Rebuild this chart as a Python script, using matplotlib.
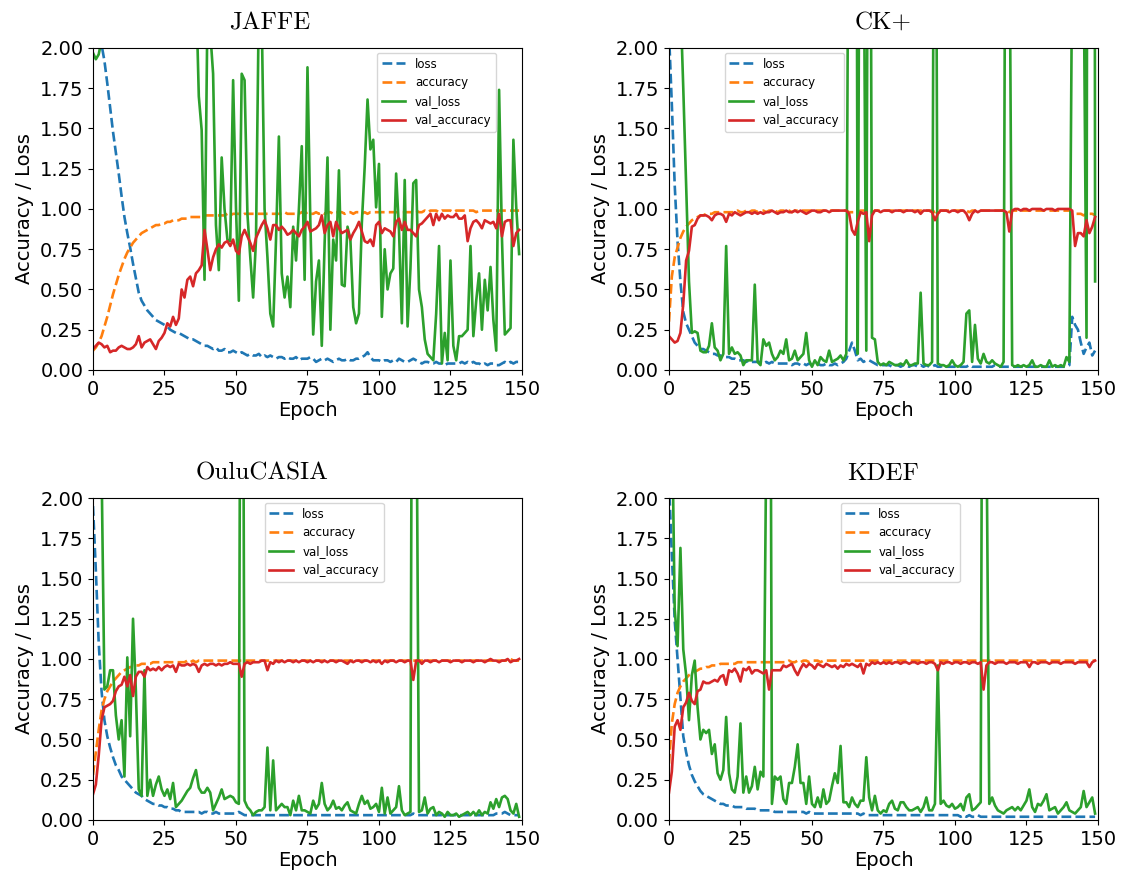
import matplotlib
matplotlib.use("Agg")
import matplotlib.pyplot as plt

epochs = list(range(150))
series_labels = ["loss", "accuracy", "val_loss", "val_accuracy"]
titles = ["JAFFE", "CK+", "OuluCASIA", "KDEF"]
x_ticks = [0, 25, 50, 75, 100, 125, 150]
y_ticks = [0.0, 0.25, 0.5, 0.75, 1.0, 1.25, 1.5, 1.75, 2.0]

# ---------------- JAFFE ----------------
jaffe_loss = [
    2.25, 2.15, 2.08, 2.02, 1.92, 1.78, 1.63, 1.48, 1.35, 1.22,
    1.08, 0.95, 0.85, 0.76, 0.66, 0.57, 0.48, 0.43, 0.40, 0.37,
    0.35, 0.33, 0.31, 0.30, 0.29, 0.28, 0.27, 0.25, 0.24, 0.23,
    0.23, 0.22, 0.21, 0.20, 0.19, 0.19, 0.18, 0.17, 0.16, 0.15,
    0.15, 0.14, 0.13, 0.14, 0.12, 0.12, 0.13, 0.11, 0.11, 0.12,
    0.11, 0.10, 0.11, 0.10, 0.09, 0.10, 0.09, 0.09, 0.10, 0.08,
    0.09, 0.08, 0.09, 0.08, 0.07, 0.08, 0.08, 0.07, 0.08, 0.07,
    0.07, 0.08, 0.06, 0.07, 0.07, 0.07, 0.08, 0.07, 0.05, 0.06,
    0.07, 0.06, 0.07, 0.06, 0.05, 0.06, 0.07, 0.06, 0.06, 0.07,
    0.06, 0.06, 0.07, 0.07, 0.08, 0.09, 0.11, 0.08, 0.06, 0.06,
    0.06, 0.05, 0.06, 0.06, 0.05, 0.06, 0.05, 0.07, 0.06, 0.05,
    0.05, 0.06, 0.07, 0.06, 0.05, 0.04, 0.05, 0.05, 0.04, 0.04,
    0.05, 0.04, 0.04, 0.03, 0.04, 0.04, 0.04, 0.04, 0.04, 0.05,
    0.04, 0.05, 0.04, 0.05, 0.04, 0.04, 0.03, 0.04, 0.03, 0.04,
    0.04, 0.03, 0.03, 0.04, 0.05, 0.04, 0.05, 0.04, 0.05, 0.05]
jaffe_acc = [
    0.12, 0.14, 0.17, 0.21, 0.27, 0.33, 0.40, 0.47, 0.53, 0.59,
    0.64, 0.69, 0.73, 0.76, 0.79, 0.81, 0.83, 0.85, 0.86, 0.87,
    0.88, 0.89, 0.90, 0.90, 0.91, 0.91, 0.92, 0.92, 0.93, 0.93,
    0.93, 0.94, 0.94, 0.94, 0.95, 0.95, 0.95, 0.95, 0.95, 0.96,
    0.96, 0.96, 0.96, 0.96, 0.96, 0.96, 0.96, 0.97, 0.96, 0.97,
    0.97, 0.97, 0.96, 0.97, 0.97, 0.97, 0.97, 0.97, 0.97, 0.97,
    0.97, 0.97, 0.97, 0.97, 0.97, 0.97, 0.97, 0.98, 0.97, 0.97,
    0.97, 0.97, 0.97, 0.98, 0.97, 0.98, 0.97, 0.97, 0.98, 0.97,
    0.98, 0.97, 0.98, 0.98, 0.97, 0.98, 0.98, 0.98, 0.97, 0.98,
    0.98, 0.97, 0.98, 0.98, 0.97, 0.98, 0.97, 0.98, 0.98, 0.98,
    0.98, 0.98, 0.98, 0.98, 0.98, 0.98, 0.98, 0.98, 0.98, 0.98,
    0.98, 0.98, 0.98, 0.99, 0.98, 0.98, 0.99, 0.98, 0.99, 0.99,
    0.99, 0.98, 0.99, 0.99, 0.99, 0.99, 0.98, 0.99, 0.99, 0.99,
    0.99, 0.99, 0.99, 0.99, 0.98, 0.99, 0.99, 0.99, 0.99, 0.99,
    0.99, 0.99, 0.99, 0.99, 0.99, 0.99, 0.99, 0.99, 0.99, 0.99]
jaffe_val_loss = [
    1.97, 1.93, 1.96, 2.05, 2.60, 3.00, 3.40, 3.10, 3.80, 4.20,
    3.60, 4.40, 3.90, 4.60, 4.10, 3.70, 4.30, 4.80, 4.00, 3.50,
    3.90, 4.20, 3.70, 3.30, 3.80, 4.10, 3.40, 3.00, 3.60, 3.20,
    2.90, 3.40, 2.80, 3.10, 2.70, 2.90, 2.40, 1.70, 1.49, 0.56,
    2.20, 2.10, 1.84, 0.90, 0.62, 1.32, 1.00, 0.81, 0.80, 1.80,
    1.01, 0.43, 1.84, 1.80, 0.97, 0.70, 0.45, 0.81, 2.30, 2.20,
    1.00, 0.70, 0.35, 0.27, 0.81, 1.45, 0.60, 0.45, 0.58, 0.39,
    0.89, 0.68, 1.00, 1.39, 0.56, 1.88, 0.92, 0.22, 0.55, 0.68,
    0.15, 0.79, 1.32, 0.25, 0.81, 0.68, 1.24, 0.53, 0.52, 0.89,
    0.81, 0.39, 0.29, 0.35, 0.91, 1.26, 1.68, 1.37, 1.43, 1.01,
    1.28, 0.33, 0.75, 0.50, 0.60, 0.63, 1.22, 0.87, 0.29, 1.18,
    0.27, 0.63, 1.16, 1.18, 0.50, 0.39, 0.19, 0.10, 0.08, 0.06,
    0.35, 0.77, 0.04, 0.23, 0.06, 0.68, 0.15, 0.06, 0.21, 0.21,
    0.23, 0.25, 0.77, 0.21, 0.43, 0.60, 0.25, 0.56, 0.37, 0.64,
    0.31, 0.12, 1.74, 0.82, 0.22, 0.24, 0.26, 1.43, 1.01, 0.72]
jaffe_val_acc = [
    0.13, 0.15, 0.17, 0.16, 0.14, 0.15, 0.11, 0.12, 0.12, 0.14,
    0.15, 0.14, 0.13, 0.13, 0.14, 0.16, 0.21, 0.14, 0.17, 0.18,
    0.19, 0.16, 0.13, 0.18, 0.20, 0.23, 0.29, 0.27, 0.33, 0.28,
    0.32, 0.50, 0.45, 0.56, 0.58, 0.52, 0.60, 0.62, 0.65, 0.87,
    0.75, 0.62, 0.70, 0.75, 0.78, 0.76, 0.79, 0.80, 0.77, 0.81,
    0.74, 0.72, 0.83, 0.87, 0.83, 0.79, 0.74, 0.82, 0.86, 0.90,
    0.93, 0.88, 0.81, 0.90, 0.90, 0.87, 0.89, 0.87, 0.84, 0.85,
    0.87, 0.85, 0.83, 0.87, 0.89, 0.92, 0.86, 0.87, 0.88, 0.90,
    0.96, 0.85, 0.90, 0.92, 0.83, 0.92, 0.88, 0.85, 0.86, 0.87,
    0.81, 0.85, 0.88, 0.92, 0.86, 0.80, 0.79, 0.81, 0.77, 0.90,
    0.92, 0.85, 0.88, 0.87, 0.86, 0.83, 0.92, 0.94, 0.87, 0.92,
    0.87, 0.87, 0.85, 0.83, 0.90, 0.91, 0.93, 0.95, 0.97, 0.90,
    0.97, 0.93, 0.97, 0.94, 0.96, 0.95, 0.95, 0.97, 0.94, 0.94,
    0.96, 0.80, 0.88, 0.92, 0.93, 0.91, 0.88, 0.93, 0.92, 0.91,
    0.92, 0.88, 0.97, 0.83, 0.92, 0.93, 0.93, 0.77, 0.85, 0.87]

# ---------------- CK+ ----------------
ck_loss = [
    2.10, 1.65, 1.15, 0.80, 0.55, 0.36, 0.29, 0.25, 0.21, 0.17,
    0.15, 0.13, 0.13, 0.12, 0.11, 0.10, 0.10, 0.09, 0.09, 0.08,
    0.08, 0.08, 0.07, 0.07, 0.06, 0.06, 0.06, 0.05, 0.06, 0.05,
    0.05, 0.05, 0.05, 0.04, 0.05, 0.04, 0.05, 0.04, 0.04, 0.04,
    0.04, 0.04, 0.04, 0.03, 0.04, 0.04, 0.03, 0.04, 0.03, 0.04,
    0.03, 0.03, 0.04, 0.03, 0.03, 0.04, 0.03, 0.03, 0.04, 0.03,
    0.04, 0.05, 0.07, 0.12, 0.17, 0.12, 0.06, 0.07, 0.05, 0.06,
    0.06, 0.05, 0.04, 0.03, 0.03, 0.03, 0.03, 0.03, 0.02, 0.03,
    0.03, 0.02, 0.03, 0.03, 0.02, 0.03, 0.03, 0.02, 0.03, 0.02,
    0.03, 0.02, 0.02, 0.03, 0.02, 0.02, 0.03, 0.02, 0.02, 0.02,
    0.02, 0.03, 0.02, 0.02, 0.02, 0.03, 0.02, 0.02, 0.02, 0.02,
    0.02, 0.02, 0.02, 0.02, 0.03, 0.02, 0.02, 0.02, 0.02, 0.02,
    0.02, 0.02, 0.02, 0.02, 0.02, 0.02, 0.02, 0.02, 0.02, 0.02,
    0.02, 0.02, 0.02, 0.02, 0.02, 0.02, 0.02, 0.02, 0.02, 0.02,
    0.03, 0.33, 0.28, 0.25, 0.17, 0.10, 0.14, 0.17, 0.09, 0.12]
ck_acc = [
    0.30, 0.58, 0.70, 0.76, 0.82, 0.86, 0.89, 0.91, 0.93, 0.94,
    0.95, 0.96, 0.96, 0.97, 0.97, 0.97, 0.98, 0.98, 0.98, 0.98,
    0.98, 0.98, 0.98, 0.98, 0.99, 0.98, 0.98, 0.99, 0.98, 0.99,
    0.99, 0.98, 0.99, 0.99, 0.98, 0.99, 0.99, 0.99, 0.98, 0.99,
    0.99, 0.99, 0.99, 0.98, 0.99, 0.99, 0.99, 0.99, 0.99, 0.99,
    0.99, 0.99, 0.99, 0.99, 0.99, 0.99, 0.99, 0.99, 0.99, 0.99,
    0.99, 0.99, 0.99, 0.98, 0.98, 0.98, 0.98, 0.99, 0.99, 0.99,
    0.98, 0.98, 0.99, 0.99, 0.99, 0.99, 0.99, 0.99, 0.99, 0.99,
    0.99, 0.99, 0.99, 0.99, 0.99, 0.99, 0.99, 0.99, 0.99, 0.99,
    0.99, 0.99, 0.99, 0.98, 0.99, 0.99, 0.99, 0.99, 0.99, 0.99,
    0.99, 0.99, 0.99, 0.99, 0.99, 0.98, 0.99, 0.99, 0.99, 0.99,
    0.99, 0.99, 0.99, 0.99, 0.99, 0.99, 0.99, 0.99, 0.99, 0.98,
    0.99, 0.99, 0.99, 0.99, 0.99, 0.99, 0.99, 0.99, 0.99, 0.99,
    0.99, 0.99, 0.99, 0.99, 0.99, 0.99, 0.99, 0.99, 0.99, 0.99,
    0.99, 0.98, 0.97, 0.97, 0.97, 0.96, 0.97, 0.97, 0.97, 0.96]
ck_val_loss = [
    4.00, 3.80, 3.20, 2.80, 2.30, 1.75, 1.15, 0.55, 0.23, 0.24,
    0.23, 0.12, 0.11, 0.11, 0.15, 0.29, 0.14, 0.12, 0.06, 0.10,
    0.77, 0.10, 0.14, 0.10, 0.11, 0.09, 0.03, 0.06, 0.06, 0.06,
    0.53, 0.05, 0.03, 0.19, 0.15, 0.17, 0.10, 0.06, 0.08, 0.12,
    0.10, 0.19, 0.06, 0.07, 0.12, 0.06, 0.08, 0.10, 0.23, 0.06,
    0.02, 0.06, 0.03, 0.08, 0.06, 0.05, 0.12, 0.05, 0.06, 0.07,
    0.09, 0.06, 0.10, 4.00, 5.00, 8.00, 0.10, 5.00, 3.00, 0.12,
    6.00, 0.20, 0.19, 0.05, 0.03, 0.04, 0.03, 0.05, 0.04, 0.03,
    0.03, 0.04, 0.03, 0.06, 0.03, 0.03, 0.04, 0.04, 0.48, 0.04,
    0.03, 0.03, 0.05, 5.00, 0.04, 0.03, 0.03, 0.02, 0.03, 0.06,
    0.03, 0.02, 0.03, 0.05, 0.35, 0.37, 0.05, 0.28, 0.07, 0.04,
    0.10, 0.05, 0.04, 0.06, 0.04, 0.03, 0.02, 0.05, 5.00, 3.00,
    0.03, 0.02, 0.03, 0.02, 0.03, 0.02, 0.03, 0.06, 0.02, 0.02,
    0.03, 0.02, 0.02, 0.06, 0.02, 0.03, 0.02, 0.03, 0.02, 0.08,
    0.05, 2.60, 3.50, 4.00, 3.50, 2.50, 0.20, 12.0, 20.0, 0.55]
ck_val_acc = [
    0.21, 0.19, 0.17, 0.18, 0.23, 0.41, 0.68, 0.74, 0.89, 0.90,
    0.94, 0.96, 0.96, 0.96, 0.95, 0.93, 0.96, 0.97, 0.97, 0.96,
    0.92, 0.97, 0.96, 0.98, 0.97, 0.96, 0.97, 0.98, 0.98, 0.97,
    0.98, 0.97, 0.98, 0.97, 0.98, 0.98, 0.99, 0.98, 0.97, 0.98,
    0.98, 0.99, 0.98, 0.98, 0.99, 0.98, 0.99, 0.98, 0.97, 0.98,
    0.99, 0.99, 0.98, 0.98, 0.99, 0.99, 0.98, 0.99, 0.99, 0.99,
    0.99, 0.99, 0.99, 0.97, 0.87, 0.84, 0.92, 0.98, 0.97, 0.98,
    0.80, 0.96, 0.99, 0.99, 0.98, 0.99, 0.99, 0.99, 0.98, 0.99,
    0.99, 0.99, 0.98, 0.99, 0.99, 0.99, 0.98, 0.99, 0.97, 0.99,
    0.99, 0.99, 0.98, 0.93, 0.97, 0.99, 0.99, 0.99, 0.98, 0.99,
    0.99, 0.98, 0.99, 0.99, 0.97, 0.93, 0.97, 0.99, 0.98, 0.99,
    0.99, 0.99, 0.99, 0.99, 0.99, 0.99, 0.99, 0.99, 0.98, 0.86,
    0.99, 1.00, 1.00, 0.99, 1.00, 1.00, 0.99, 1.00, 1.00, 1.00,
    1.00, 0.99, 1.00, 1.00, 1.00, 0.99, 1.00, 1.00, 1.00, 1.00,
    1.00, 0.99, 0.77, 0.85, 0.85, 0.83, 0.93, 0.85, 0.89, 0.95]

# ---------------- OuluCASIA ----------------
oulu_loss = [
    1.95, 1.55, 1.10, 0.80, 0.62, 0.52, 0.45, 0.39, 0.34, 0.31,
    0.27, 0.25, 0.23, 0.21, 0.19, 0.17, 0.16, 0.15, 0.13, 0.12,
    0.11, 0.10, 0.10, 0.09, 0.09, 0.08, 0.08, 0.07, 0.07, 0.06,
    0.06, 0.05, 0.05, 0.05, 0.05, 0.05, 0.05, 0.05, 0.04, 0.05,
    0.05, 0.04, 0.04, 0.05, 0.04, 0.04, 0.04, 0.04, 0.04, 0.04,
    0.04, 0.05, 0.04, 0.03, 0.03, 0.03, 0.03, 0.03, 0.03, 0.03,
    0.03, 0.03, 0.03, 0.03, 0.03, 0.03, 0.03, 0.03, 0.03, 0.03,
    0.03, 0.03, 0.03, 0.03, 0.03, 0.03, 0.03, 0.03, 0.03, 0.03,
    0.03, 0.03, 0.03, 0.03, 0.03, 0.03, 0.03, 0.03, 0.03, 0.03,
    0.03, 0.03, 0.03, 0.03, 0.03, 0.03, 0.03, 0.03, 0.03, 0.03,
    0.03, 0.03, 0.03, 0.03, 0.03, 0.03, 0.03, 0.03, 0.03, 0.03,
    0.03, 0.03, 0.04, 0.03, 0.03, 0.03, 0.03, 0.03, 0.03, 0.03,
    0.03, 0.03, 0.03, 0.03, 0.03, 0.03, 0.03, 0.03, 0.03, 0.03,
    0.03, 0.03, 0.03, 0.03, 0.03, 0.03, 0.03, 0.03, 0.03, 0.03,
    0.03, 0.04, 0.04, 0.04, 0.05, 0.04, 0.03, 0.03, 0.03, 0.03]
oulu_acc = [
    0.28, 0.42, 0.56, 0.68, 0.75, 0.80, 0.83, 0.86, 0.88, 0.90,
    0.92, 0.93, 0.94, 0.95, 0.95, 0.96, 0.96, 0.97, 0.97, 0.97,
    0.97, 0.98, 0.98, 0.98, 0.98, 0.98, 0.98, 0.98, 0.98, 0.98,
    0.98, 0.98, 0.98, 0.99, 0.98, 0.99, 0.98, 0.99, 0.99, 0.99,
    0.99, 0.99, 0.99, 0.99, 0.99, 0.99, 0.99, 0.99, 0.99, 0.99,
    0.99, 0.99, 0.99, 0.99, 0.99, 0.99, 0.99, 0.99, 0.99, 0.99,
    0.99, 0.99, 0.99, 0.99, 0.99, 0.99, 0.99, 0.99, 0.99, 0.99,
    0.99, 0.99, 0.99, 0.99, 0.99, 0.99, 0.99, 0.99, 0.99, 0.99,
    0.99, 0.99, 0.99, 0.99, 0.99, 0.99, 0.99, 0.99, 0.99, 0.99,
    0.99, 0.99, 0.99, 0.99, 0.99, 0.99, 0.99, 0.99, 0.99, 0.99,
    0.99, 0.99, 0.99, 0.99, 0.99, 0.99, 0.99, 0.99, 0.99, 0.99,
    0.99, 0.99, 0.99, 0.99, 0.99, 0.99, 0.99, 0.99, 0.99, 0.99,
    0.99, 0.99, 0.99, 0.99, 0.99, 0.99, 0.99, 0.99, 0.99, 0.99,
    0.99, 0.99, 0.99, 0.99, 0.99, 0.99, 0.99, 0.99, 0.99, 0.99,
    0.99, 0.99, 0.99, 0.99, 0.99, 0.99, 1.00, 0.99, 0.99, 0.99]
oulu_val_loss = [
    3.50, 3.00, 2.60, 2.20, 0.81, 0.83, 0.93, 0.93, 0.65, 0.50,
    0.62, 0.27, 1.01, 0.52, 1.25, 0.80, 0.19, 0.15, 0.93, 0.15,
    0.25, 0.15, 0.22, 0.27, 0.19, 0.15, 0.19, 0.13, 0.23, 0.08,
    0.10, 0.12, 0.15, 0.18, 0.20, 0.26, 0.31, 0.20, 0.17, 0.17,
    0.20, 0.17, 0.06, 0.10, 0.14, 0.19, 0.13, 0.14, 0.15, 0.14,
    0.11, 0.10, 6.00, 0.12, 0.08, 0.06, 0.03, 0.05, 0.06, 0.06,
    0.08, 0.45, 0.06, 0.37, 0.06, 0.08, 0.10, 0.08, 0.08, 0.03,
    0.12, 0.06, 0.15, 0.06, 0.06, 0.05, 0.04, 0.12, 0.07, 0.10,
    0.23, 0.10, 0.06, 0.08, 0.12, 0.07, 0.08, 0.06, 0.09, 0.11,
    0.06, 0.05, 0.04, 0.10, 0.15, 0.10, 0.12, 0.07, 0.08, 0.10,
    0.05, 0.20, 0.04, 0.14, 0.04, 0.06, 0.08, 0.21, 0.06, 0.03,
    0.04, 0.05, 6.00, 3.00, 0.05, 0.06, 0.14, 0.04, 0.07, 0.08,
    0.03, 0.05, 0.04, 0.02, 0.05, 0.03, 0.03, 0.04, 0.02, 0.03,
    0.04, 0.05, 0.03, 0.05, 0.03, 0.06, 0.03, 0.05, 0.04, 0.11,
    0.07, 0.13, 0.08, 0.14, 0.15, 0.13, 0.06, 0.04, 0.10, 0.02]
oulu_val_acc = [
    0.16, 0.22, 0.40, 0.62, 0.70, 0.71, 0.72, 0.74, 0.80, 0.83,
    0.84, 0.89, 0.83, 0.90, 0.77, 0.89, 0.92, 0.92, 0.89, 0.95,
    0.93, 0.94, 0.93, 0.95, 0.93, 0.95, 0.96, 0.95, 0.96, 0.92,
    0.97, 0.96, 0.96, 0.97, 0.96, 0.97, 0.96, 0.92, 0.96, 0.97,
    0.96, 0.97, 0.97, 0.96, 0.97, 0.96, 0.97, 0.97, 0.98, 0.97,
    0.97, 0.97, 0.89, 0.97, 0.98, 0.97, 0.98, 0.98, 0.98, 0.99,
    0.99, 0.93, 0.98, 0.97, 0.99, 0.98, 0.99, 0.98, 0.99, 0.99,
    0.98, 0.99, 0.98, 0.99, 0.99, 0.98, 0.99, 0.98, 0.99, 0.99,
    0.98, 0.99, 0.98, 0.99, 0.99, 0.98, 0.99, 0.99, 0.98, 0.97,
    0.99, 0.98, 0.99, 0.99, 0.98, 0.99, 0.99, 0.98, 0.99, 0.98,
    0.99, 0.97, 0.99, 0.98, 0.99, 0.99, 0.98, 0.99, 0.99, 0.98,
    0.99, 0.99, 0.87, 0.99, 0.99, 0.97, 0.99, 0.99, 0.98, 0.99,
    0.99, 0.98, 0.99, 0.99, 0.99, 0.98, 0.99, 0.99, 0.99, 0.98,
    0.99, 0.99, 0.99, 0.98, 0.99, 0.99, 0.99, 0.98, 0.99, 1.00,
    0.99, 0.99, 0.98, 0.99, 0.99, 1.00, 0.98, 0.99, 0.99, 1.00]

# ---------------- KDEF ----------------
kdef_loss = [
    2.10, 1.65, 1.24, 1.00, 0.76, 0.52, 0.42, 0.34, 0.28, 0.24,
    0.21, 0.18, 0.16, 0.15, 0.14, 0.13, 0.12, 0.11, 0.10, 0.10,
    0.09, 0.09, 0.09, 0.08, 0.08, 0.08, 0.08, 0.07, 0.07, 0.07,
    0.07, 0.06, 0.06, 0.06, 0.06, 0.06, 0.06, 0.05, 0.05, 0.05,
    0.05, 0.05, 0.05, 0.05, 0.05, 0.05, 0.05, 0.05, 0.04, 0.05,
    0.04, 0.04, 0.04, 0.04, 0.04, 0.04, 0.04, 0.04, 0.04, 0.04,
    0.04, 0.04, 0.04, 0.04, 0.04, 0.04, 0.04, 0.03, 0.04, 0.03,
    0.03, 0.03, 0.03, 0.03, 0.03, 0.03, 0.03, 0.03, 0.03, 0.03,
    0.03, 0.03, 0.03, 0.03, 0.03, 0.03, 0.03, 0.03, 0.03, 0.03,
    0.03, 0.03, 0.03, 0.03, 0.03, 0.03, 0.03, 0.03, 0.03, 0.03,
    0.03, 0.03, 0.02, 0.03, 0.02, 0.03, 0.02, 0.02, 0.03, 0.02,
    0.02, 0.02, 0.02, 0.02, 0.02, 0.02, 0.02, 0.02, 0.02, 0.02,
    0.02, 0.02, 0.02, 0.02, 0.02, 0.02, 0.02, 0.02, 0.02, 0.02,
    0.02, 0.02, 0.02, 0.02, 0.02, 0.02, 0.02, 0.02, 0.02, 0.02,
    0.02, 0.02, 0.02, 0.02, 0.02, 0.02, 0.02, 0.02, 0.02, 0.02]
kdef_acc = [
    0.35, 0.60, 0.72, 0.79, 0.83, 0.86, 0.88, 0.90, 0.91, 0.92,
    0.93, 0.94, 0.94, 0.95, 0.95, 0.96, 0.96, 0.96, 0.97, 0.97,
    0.97, 0.97, 0.97, 0.97, 0.98, 0.98, 0.98, 0.98, 0.98, 0.98,
    0.98, 0.98, 0.98, 0.98, 0.98, 0.98, 0.98, 0.98, 0.98, 0.98,
    0.98, 0.98, 0.99, 0.98, 0.98, 0.99, 0.98, 0.99, 0.99, 0.98,
    0.99, 0.99, 0.99, 0.98, 0.99, 0.99, 0.99, 0.99, 0.99, 0.99,
    0.99, 0.99, 0.99, 0.99, 0.99, 0.99, 0.99, 0.99, 0.99, 0.99,
    0.99, 0.99, 0.99, 0.99, 0.99, 0.99, 0.99, 0.99, 0.99, 0.99,
    0.99, 0.99, 0.99, 0.99, 0.99, 0.99, 0.99, 0.99, 0.99, 0.99,
    0.99, 0.99, 0.99, 0.99, 0.99, 0.99, 0.99, 0.99, 0.99, 0.99,
    0.99, 0.99, 0.99, 0.99, 0.99, 0.99, 0.99, 0.99, 0.99, 0.99,
    0.99, 0.99, 0.99, 0.99, 0.99, 0.99, 0.99, 0.99, 0.99, 0.99,
    0.99, 0.99, 0.99, 0.99, 0.99, 0.99, 0.99, 0.99, 0.99, 0.99,
    0.99, 0.99, 0.99, 0.99, 0.99, 0.99, 0.99, 0.99, 0.99, 0.99,
    0.99, 0.99, 0.99, 0.99, 0.99, 0.99, 0.99, 0.99, 0.99, 0.99]
kdef_val_loss = [
    4.00, 2.60, 1.31, 1.08, 1.69, 1.06, 0.90, 0.62, 0.90, 0.99,
    0.70, 0.50, 0.56, 0.54, 0.56, 0.41, 0.47, 0.29, 0.25, 0.31,
    0.64, 0.29, 0.19, 0.17, 0.27, 0.60, 0.17, 0.27, 0.17, 0.21,
    0.33, 0.19, 0.30, 0.27, 2.30, 6.00, 0.10, 0.27, 0.25, 0.27,
    0.13, 0.10, 0.23, 0.23, 0.33, 0.47, 0.23, 0.23, 0.10, 0.27,
    0.10, 0.08, 0.14, 0.08, 0.19, 0.10, 0.12, 0.21, 0.29, 0.23,
    0.46, 0.11, 0.11, 0.08, 0.14, 0.10, 0.08, 0.12, 0.12, 0.39,
    0.14, 0.06, 0.15, 0.06, 0.04, 0.06, 0.05, 0.10, 0.12, 0.07,
    0.06, 0.11, 0.11, 0.08, 0.06, 0.06, 0.07, 0.08, 0.05, 0.08,
    0.14, 0.06, 0.06, 0.10, 0.96, 0.10, 0.12, 0.09, 0.08, 0.10,
    0.07, 0.08, 0.10, 0.06, 0.14, 0.16, 0.06, 0.07, 0.09, 0.11,
    6.00, 2.50, 0.10, 0.14, 0.09, 0.06, 0.05, 0.04, 0.06, 0.07,
    0.08, 0.06, 0.08, 0.06, 0.09, 0.12, 0.19, 0.08, 0.05, 0.10,
    0.09, 0.12, 0.16, 0.06, 0.07, 0.08, 0.04, 0.06, 0.08, 0.11,
    0.06, 0.05, 0.04, 0.06, 0.08, 0.18, 0.08, 0.11, 0.14, 0.04]
kdef_val_acc = [
    0.17, 0.30, 0.58, 0.62, 0.56, 0.70, 0.73, 0.79, 0.74, 0.72,
    0.80, 0.81, 0.86, 0.85, 0.85, 0.86, 0.87, 0.86, 0.89, 0.90,
    0.84, 0.93, 0.92, 0.94, 0.91, 0.86, 0.94, 0.93, 0.95, 0.91,
    0.93, 0.93, 0.92, 0.91, 0.93, 0.81, 0.93, 0.93, 0.93, 0.93,
    0.96, 0.95, 0.96, 0.97, 0.93, 0.90, 0.94, 0.97, 0.95, 0.97,
    0.96, 0.94, 0.97, 0.96, 0.95, 0.97, 0.96, 0.95, 0.96, 0.94,
    0.96, 0.95, 0.97, 0.96, 0.97, 0.96, 0.95, 0.97, 0.91, 0.97,
    0.96, 0.98, 0.97, 0.98, 0.97, 0.98, 0.97, 0.98, 0.97, 0.98,
    0.98, 0.97, 0.98, 0.98, 0.97, 0.98, 0.98, 0.97, 0.98, 0.98,
    0.97, 0.98, 0.98, 0.97, 0.93, 0.98, 0.97, 0.98, 0.98, 0.97,
    0.98, 0.98, 0.97, 0.98, 0.98, 0.97, 0.98, 0.98, 0.97, 0.98,
    0.81, 0.96, 0.98, 0.98, 0.97, 0.98, 0.98, 0.98, 0.97, 0.98,
    0.98, 0.98, 0.97, 0.98, 0.98, 0.98, 0.95, 0.98, 0.98, 0.97,
    0.98, 0.98, 0.98, 0.97, 0.98, 0.98, 0.98, 0.97, 0.98, 0.98,
    0.98, 0.98, 0.97, 0.98, 0.98, 0.98, 0.98, 0.95, 0.98, 0.99]

datasets = [
    (jaffe_loss, jaffe_acc, jaffe_val_loss, jaffe_val_acc),
    (ck_loss, ck_acc, ck_val_loss, ck_val_acc),
    (oulu_loss, oulu_acc, oulu_val_loss, oulu_val_acc),
    (kdef_loss, kdef_acc, kdef_val_loss, kdef_val_acc),
]

colors = ["#1f77b4", "#ff7f0e", "#2ca02c", "#d62728"]
styles = ["--", "--", "-", "-"]

W, H = 1123, 874
axes_rects = [
    [0.0828, 0.5767, 0.3820, 0.3684],
    [0.5957, 0.5767, 0.3820, 0.3684],
    [0.0828, 0.0618, 0.3820, 0.3684],
    [0.5957, 0.0618, 0.3820, 0.3684],
]
# title centres / baselines in figure pixels
title_pos = [(270, 29), (883, 29), (262, 480), (883, 480)]
legend_anchor = [(0.662, 0.985), (0.13, 0.985), (0.40, 0.985), (0.40, 0.985)]

fig = plt.figure(figsize=(W / 100, H / 100), dpi=100)
for i, rect in enumerate(axes_rects):
    ax = fig.add_axes(rect)
    for s, ys in enumerate(datasets[i]):
        ax.plot(epochs, ys, linestyle=styles[s], color=colors[s],
                linewidth=1.9, label=series_labels[s])
    ax.set_xlim(0, 150)
    ax.set_ylim(0, 2)
    ax.set_xticks(x_ticks)
    ax.set_yticks(y_ticks)
    ax.tick_params(labelsize=14)
    ax.set_xlabel("Epoch", fontsize=14, labelpad=2)
    ax.set_ylabel("Accuracy / Loss", fontsize=14)
    ax.legend(loc="upper left", bbox_to_anchor=legend_anchor[i],
              borderaxespad=0, fontsize=8.5)
    tx, ty = title_pos[i]
    fig.text(tx / W, 1 - ty / H, titles[i], ha="center", va="baseline",
             fontsize=18, fontfamily="cmr10")

fig.savefig("out.png", dpi=100)
